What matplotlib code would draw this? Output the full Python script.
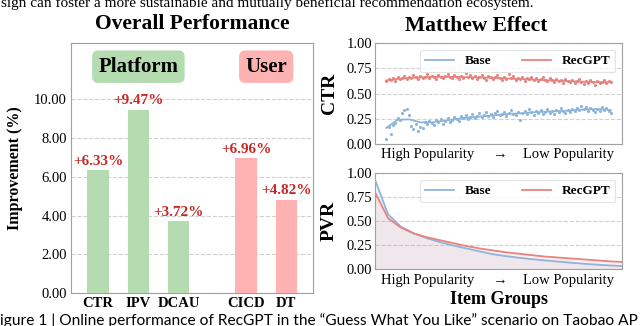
import numpy as np
import matplotlib
matplotlib.use('Agg')
import matplotlib.pyplot as plt

plt.rcParams['font.family'] = ['Liberation Serif', 'DejaVu Serif']

# overall performance bars
metrics = ['CTR', 'IPV', 'DCAU', 'CICD', 'DT']
improvement = [6.33, 9.47, 3.72, 6.96, 4.82]
groups = ['Platform', 'Platform', 'Platform', 'User', 'User']

# matthew effect, CTR scatter per item group (high -> low popularity)
base_ctr = [0.05, 0.17, 0.10, 0.19, 0.21, 0.26, 0.24, 0.31, 0.34, 0.35,
            0.29, 0.18, 0.15, 0.20, 0.13, 0.17, 0.16, 0.22, 0.20, 0.23,
            0.21, 0.19, 0.24, 0.22, 0.25, 0.20, 0.23, 0.26, 0.22, 0.24,
            0.27, 0.25, 0.23, 0.28, 0.26, 0.29, 0.25, 0.27, 0.30, 0.26,
            0.28, 0.31, 0.27, 0.29, 0.32, 0.28, 0.30, 0.27, 0.31, 0.33,
            0.29, 0.30, 0.32, 0.28, 0.31, 0.34, 0.30, 0.29, 0.32, 0.24,
            0.31, 0.33, 0.30, 0.35, 0.32, 0.29, 0.33, 0.31, 0.34, 0.30,
            0.32, 0.35, 0.31, 0.33, 0.30, 0.34, 0.32, 0.36, 0.33, 0.31,
            0.34, 0.32, 0.35, 0.33, 0.36, 0.34, 0.38, 0.35, 0.37, 0.33,
            0.36, 0.34, 0.32, 0.35, 0.33, 0.37, 0.34, 0.36, 0.33, 0.31]
rec_ctr = [0.62, 0.64, 0.63, 0.65, 0.62, 0.66, 0.64, 0.65, 0.67, 0.64,
           0.66, 0.65, 0.68, 0.66, 0.64, 0.67, 0.65, 0.66, 0.69, 0.65,
           0.67, 0.66, 0.64, 0.68, 0.66, 0.65, 0.67, 0.69, 0.66, 0.65,
           0.68, 0.66, 0.64, 0.67, 0.65, 0.70, 0.66, 0.68, 0.65, 0.67,
           0.64, 0.66, 0.68, 0.65, 0.63, 0.67, 0.66, 0.64, 0.66, 0.68,
           0.65, 0.63, 0.66, 0.64, 0.69, 0.65, 0.67, 0.63, 0.65, 0.64,
           0.66, 0.62, 0.65, 0.64, 0.66, 0.63, 0.65, 0.62, 0.64, 0.66,
           0.63, 0.62, 0.65, 0.63, 0.61, 0.64, 0.62, 0.63, 0.60, 0.64,
           0.62, 0.61, 0.63, 0.60, 0.62, 0.64, 0.61, 0.59, 0.62, 0.60,
           0.63, 0.61, 0.58, 0.62, 0.60, 0.61, 0.63, 0.60, 0.62, 0.61]
# smoothed trend lines
trend_x = [0, 5, 10, 15, 20, 25, 30, 35, 40, 45, 50,
           55, 60, 65, 70, 75, 80, 85, 90, 95, 99]
base_trend = [0.16, 0.24, 0.245, 0.215, 0.215, 0.23, 0.245, 0.26, 0.27, 0.28, 0.29,
              0.30, 0.305, 0.315, 0.32, 0.325, 0.33, 0.34, 0.345, 0.345, 0.335]
rec_trend = [0.63, 0.645, 0.655, 0.66, 0.665, 0.665, 0.665, 0.662, 0.66, 0.657, 0.653,
             0.648, 0.643, 0.638, 0.633, 0.628, 0.623, 0.618, 0.615, 0.612, 0.612]

# PVR per item group
base_pvr = [0.93, 0.57, 0.44, 0.37, 0.32, 0.28, 0.245, 0.215, 0.185, 0.155,
            0.135, 0.118, 0.103, 0.09, 0.078, 0.066, 0.055, 0.045, 0.037, 0.03]
rec_pvr = [0.80, 0.53, 0.43, 0.37, 0.33, 0.30, 0.27, 0.24, 0.215, 0.195,
           0.175, 0.16, 0.145, 0.13, 0.12, 0.11, 0.10, 0.09, 0.08, 0.072]

green = '#b5dbb1'
pink = '#ffb2b2'
blue_c = '#8db4db'
red_c = '#e8837f'
spine_c = '#a0a0a0'
label_red = '#c62828'
serif = ['Liberation Serif', 'DejaVu Serif']

fig = plt.figure(figsize=(6.4, 3.26), dpi=100)

# ---- left: overall performance ----
ax = fig.add_axes([0.111, 0.101, 0.378, 0.767])
pos = [0, 1, 2, 3.67, 4.67]
cols = [green if g == 'Platform' else pink for g in groups]
ax.bar(pos, improvement, width=0.53, color=cols, zorder=3)
for p, v in zip(pos, improvement):
    ax.text(p, v + 0.12, '+%.2f%%' % v, ha='center', va='bottom', family=serif,
            fontsize=11, fontweight='bold', color=label_red, zorder=4)
ax.set_xlim(-0.67, 5.33)
ax.set_ylim(0, 12.9)
ax.set_yticks([0, 2, 4, 6, 8, 10])
ax.set_yticklabels(['%.2f' % t for t in [0, 2, 4, 6, 8, 10]], fontsize=10.5)
ax.set_xticks(pos)
ax.set_xticklabels(metrics, fontsize=10.5, fontweight='bold')
ax.tick_params(length=0, pad=3)
ax.grid(axis='y', ls='--', color='#d0d0d0', lw=0.8, zorder=0)
for s in ax.spines.values():
    s.set_color(spine_c)
ax.set_ylabel('Improvement (%)', fontsize=11.5, fontweight='bold')
ax.yaxis.set_label_coords(-0.2, 0.5)
ax.text(1.0, 11.68, 'Platform', ha='center', va='center', fontsize=15, fontweight='bold',
        family=serif, bbox=dict(boxstyle='round,pad=0.3', fc=green, ec='none'))
ax.text(4.17, 11.68, 'User', ha='center', va='center', fontsize=15, fontweight='bold',
        family=serif, bbox=dict(boxstyle='round,pad=0.3', fc=pink, ec='none'))

fig.text(192 / 640, 1 - 24 / 326, 'Overall Performance', ha='center', va='center',
         fontsize=15.5, fontweight='bold')
fig.text(476 / 640, 1 - 26 / 326, 'Matthew Effect', ha='center', va='center',
         fontsize=15.5, fontweight='bold')


def style_right(a, ylab):
    a.set_ylim(0, 1)
    a.set_yticks([0, 0.25, 0.5, 0.75, 1.0])
    a.set_yticklabels(['0.00', '0.25', '0.50', '0.75', '1.00'], fontsize=10.5)
    a.set_xticks([])
    a.tick_params(length=0, pad=2)
    a.grid(axis='y', ls='--', color='#d0d0d0', lw=0.8, zorder=0)
    for s in a.spines.values():
        s.set_color(spine_c)
    a.set_ylabel(ylab, fontsize=14, fontweight='bold')
    a.yaxis.set_label_coords(-0.15, 0.5)
    leg = a.legend(loc='upper right', ncol=2, prop={'family': serif, 'weight': 'bold', 'size': 9.5},
                   frameon=True, fancybox=True, edgecolor='#dddddd',
                   handlelength=2.2, columnspacing=2.3, borderpad=0.4)
    leg.get_frame().set_linewidth(0.8)


def pop_axis(a, y):
    for xx, t in [(0.2125, 'High Popularity'), (0.502, '\u2192'), (0.785, 'Low Popularity')]:
        a.text(xx, y, t, transform=a.transAxes, ha='center', va='center',
               fontsize=10.5, family=serif)


# ---- right top: CTR ----
ax1 = fig.add_axes([0.586, 0.558, 0.386, 0.310])
xi = np.arange(len(base_ctr))
ax1.scatter(xi, base_ctr, s=1.5, color=blue_c, zorder=3)
ax1.scatter(xi, rec_ctr, s=1.5, color=red_c, zorder=3)
ax1.plot(trend_x, base_trend, color=blue_c, lw=1.3, label='Base', zorder=4)
ax1.plot(trend_x, rec_trend, color=red_c, lw=1.3, label='RecGPT', zorder=4)
style_right(ax1, 'CTR')
pop_axis(ax1, -0.1)

# ---- right bottom: PVR ----
ax2 = fig.add_axes([0.586, 0.175, 0.386, 0.294])
gi = np.arange(len(base_pvr))
ax2.fill_between(gi, base_pvr, color=blue_c, alpha=0.12, lw=0, zorder=2)
ax2.fill_between(gi, rec_pvr, color=red_c, alpha=0.12, lw=0, zorder=2)
ax2.plot(gi, base_pvr, color=blue_c, lw=1.3, label='Base', zorder=4)
ax2.plot(gi, rec_pvr, color=red_c, lw=1.3, label='RecGPT', zorder=4)
ax2.set_xlim(0, len(gi) - 1)
style_right(ax2, 'PVR')
pop_axis(ax2, -0.122)
ax2.text(0.5, -0.32, 'Item Groups', transform=ax2.transAxes, ha='center', va='center',
         fontsize=13, fontweight='bold', family=serif)

# surrounding paper text, cut by the crop
fig.text(0.002, 1 - 6.5 / 326, 'sign can foster a more sustainable and mutually beneficial recommendation ecosystem.',
         ha='left', va='baseline', fontsize=11, family=serif)
fig.text(0.0, 0.004, 'igure 1 | Online performance of RecGPT in the \u201cGuess What You Like\u201d scenario on Taobao AP',
         ha='left', va='baseline', fontsize=11.2, family=['Lato', 'DejaVu Sans'])

fig.savefig('out.png', dpi=100)
